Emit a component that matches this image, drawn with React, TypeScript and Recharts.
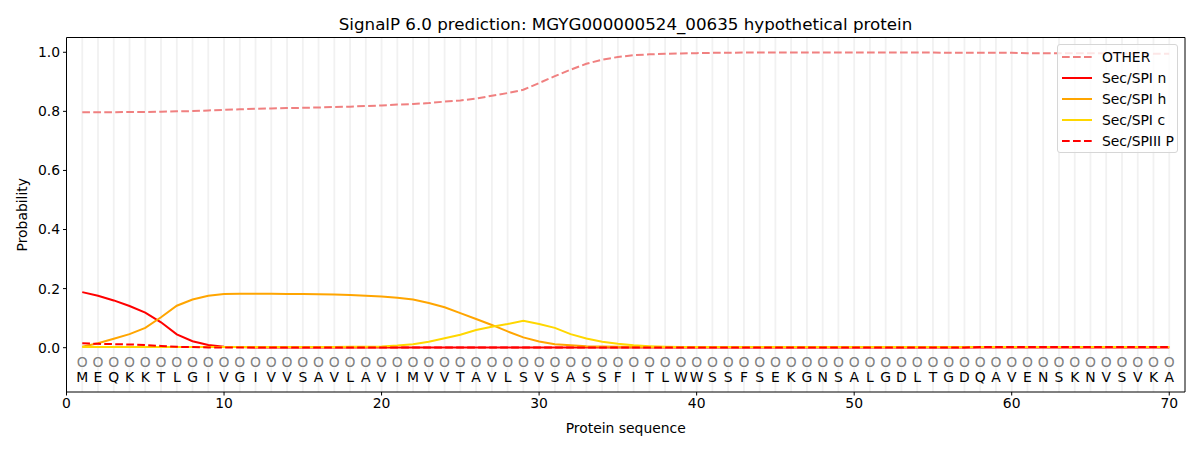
import { ComposedChart, Line, Scatter, XAxis, YAxis, ReferenceLine } from 'recharts';

// sequence and per-residue predicted label
const residues = 'MEQKKTLGIVGIVVSAVLAVIMVVTAVLSVSASSFITLWWSSFSEKGNSALGDLTGDQAVENSKNVSVKA'.split('');
const predicted = 'OOOOOOOOOOOOOOOOOOOOOOOOOOOOOOOOOOOOOOOOOOOOOOOOOOOOOOOOOOOOOOOOOOOOOO'.split('');

const other = [
  0.797, 0.797, 0.797, 0.798, 0.798, 0.799, 0.8, 0.801, 0.803, 0.805,
  0.807, 0.809, 0.81, 0.811, 0.812, 0.813, 0.815, 0.816, 0.818, 0.82,
  0.823, 0.825, 0.828, 0.833, 0.837, 0.843, 0.853, 0.862, 0.873, 0.896,
  0.919, 0.941, 0.961, 0.975, 0.984, 0.99, 0.993, 0.995, 0.996, 0.997,
  0.998, 0.998, 0.999, 0.999, 0.999, 0.999, 0.999, 0.999, 0.999, 0.999,
  0.999, 0.999, 0.999, 0.999, 0.999, 0.998, 0.998, 0.998, 0.998, 0.998,
  0.997, 0.997, 0.997, 0.997, 0.997, 0.996, 0.996, 0.996, 0.995, 0.995,
];
const secN = [
  0.188, 0.176, 0.16, 0.141, 0.119, 0.086, 0.045, 0.022, 0.009, 0.003,
  0.002, 0.001, 0.001, 0.001, 0.001, 0.001, 0.001, 0.001, 0.001, 0.001,
  0.001, 0.001, 0.001, 0.001, 0.001, 0.001, 0.001, 0.001, 0.001, 0.001,
  0.001, 0.001, 0.001, 0.001, 0.001, 0.001, 0.001, 0.001, 0.001, 0.001,
  0.001, 0.001, 0.001, 0.001, 0.001, 0.001, 0.001, 0.001, 0.001, 0.001,
  0.001, 0.001, 0.001, 0.001, 0.001, 0.001, 0.001, 0.001, 0.001, 0.001,
  0.001, 0.001, 0.001, 0.001, 0.001, 0.001, 0.001, 0.001, 0.001, 0.001,
];
const secH = [
  0.003, 0.015, 0.03, 0.046, 0.067, 0.103, 0.142, 0.163, 0.176, 0.182,
  0.183, 0.183, 0.183, 0.182, 0.182, 0.181, 0.18, 0.178, 0.176, 0.173,
  0.169, 0.163, 0.151, 0.137, 0.117, 0.097, 0.077, 0.055, 0.035, 0.021,
  0.012, 0.008, 0.005, 0.004, 0.003, 0.003, 0.002, 0.002, 0.002, 0.002,
  0.002, 0.002, 0.002, 0.002, 0.002, 0.002, 0.002, 0.002, 0.002, 0.002,
  0.002, 0.002, 0.002, 0.002, 0.002, 0.002, 0.002, 0.002, 0.002, 0.002,
  0.002, 0.002, 0.002, 0.002, 0.002, 0.002, 0.002, 0.002, 0.002, 0.002,
];
const secC = [
  0.002, 0.002, 0.002, 0.002, 0.002, 0.002, 0.002, 0.002, 0.002, 0.002,
  0.002, 0.002, 0.002, 0.002, 0.002, 0.002, 0.002, 0.003, 0.003, 0.004,
  0.007, 0.012, 0.02, 0.032, 0.044, 0.06, 0.071, 0.08, 0.091, 0.08,
  0.067, 0.046, 0.031, 0.02, 0.013, 0.008, 0.005, 0.003, 0.002, 0.002,
  0.002, 0.002, 0.002, 0.002, 0.002, 0.002, 0.002, 0.002, 0.002, 0.002,
  0.002, 0.002, 0.002, 0.002, 0.002, 0.002, 0.002, 0.002, 0.002, 0.002,
  0.002, 0.002, 0.002, 0.002, 0.002, 0.002, 0.002, 0.002, 0.002, 0.002,
];
const secP = [
  0.015, 0.013, 0.012, 0.011, 0.009, 0.006, 0.003, 0.002, 0.001, 0.001,
  0.001, 0.001, 0.001, 0.001, 0.001, 0.001, 0.001, 0.001, 0.001, 0.001,
  0.001, 0.001, 0.001, 0.001, 0.001, 0.001, 0.001, 0.001, 0.001, 0.001,
  0.001, 0.001, 0.001, 0.001, 0.001, 0.001, 0.001, 0.001, 0.001, 0.001,
  0.001, 0.001, 0.001, 0.001, 0.001, 0.001, 0.001, 0.001, 0.001, 0.001,
  0.001, 0.001, 0.001, 0.001, 0.001, 0.001, 0.001, 0.002, 0.002, 0.002,
  0.002, 0.002, 0.002, 0.002, 0.002, 0.002, 0.002, 0.002, 0.002, 0.002,
];

const xTicks = [0, 10, 20, 30, 40, 50, 60, 70];
const yTicks = [0, 0.2, 0.4, 0.6, 0.8, 1.0];

const series = [
  { key: 'other', name: 'OTHER', color: '#f08080', dash: '7.7 3.3' },
  { key: 'n', name: 'Sec/SPI n', color: '#ff0000', dash: undefined },
  { key: 'h', name: 'Sec/SPI h', color: '#ffa500', dash: undefined },
  { key: 'c', name: 'Sec/SPI c', color: '#ffd700', dash: undefined },
  { key: 'p', name: 'Sec/SPIII P', color: '#ff0000', dash: '7.7 3.3' },
];

const data = residues.map((aa, i) => ({
  pos: i + 1,
  aa,
  label: predicted[i],
  other: other[i],
  n: secN[i],
  h: secH[i],
  c: secC[i],
  p: secP[i],
  labelY: -0.05,
  aaY: -0.1,
}));

const FONT = '"DejaVu Sans", sans-serif';

const App = () => {
  return (
    <div style={{ position: 'relative', width: 1200, height: 450, fontFamily: FONT, background: '#fff' }}>
      <style>{'body{margin:0}'}</style>
      <div style={{ position: 'absolute', left: 66, width: 1119, top: 14, textAlign: 'center', fontSize: 16.7, color: '#000' }}>
        SignalP 6.0 prediction: MGYG000000524_00635 hypothetical protein
      </div>
      <ComposedChart width={1200} height={450} data={data} margin={{ top: 37.5, right: 15, bottom: 0, left: 0 }}>
        {data.map((d) => (
          <ReferenceLine key={d.pos} x={d.pos} stroke="#f1f1f1" strokeWidth={1.8} zIndex={-50} />
        ))}
        {/* top and right spines */}
        <ReferenceLine y={1.05} stroke="#000" strokeWidth={1} />
        <ReferenceLine x={71} stroke="#000" strokeWidth={1} />
        <XAxis
          dataKey="pos"
          type="number"
          domain={[0, 71]}
          ticks={xTicks}
          interval={0}
          height={58}
          tickSize={3.5}
          tickMargin={3}
          stroke="#000"
          tick={{ fill: '#000', fontSize: 13.9, fontFamily: FONT }}
          label={{ value: 'Protein sequence', position: 'insideBottom', offset: 17, fill: '#000', fontSize: 13.9, fontFamily: FONT }}
        />
        <YAxis
          type="number"
          domain={[-0.15, 1.05]}
          ticks={yTicks}
          interval={0}
          width={66.5}
          tickSize={3.5}
          tickMargin={3}
          stroke="#000"
          tickFormatter={(v: number) => v.toFixed(1)}
          tick={{ fill: '#000', fontSize: 13.9, fontFamily: FONT }}
          label={{
            content: () => (
              <text x={22} y={214.75} transform="rotate(-90 22 214.75)" textAnchor="middle" dominantBaseline="central" fontSize={13.9} fontFamily={FONT} fill="#000">
                Probability
              </text>
            ),
          }}
        />
        {series.map((s) => (
          <Line
            key={s.key}
            dataKey={s.key}
            name={s.name}
            type="linear"
            stroke={s.color}
            strokeWidth={2}
            strokeDasharray={s.dash}
            dot={false}
            activeDot={false}
            isAnimationActive={false}
          />
        ))}
        <Scatter
          data={data}
          dataKey="labelY"
          isAnimationActive={false}
          shape={(props: any) => (
            <text x={props.cx} y={props.cy} textAnchor="middle" dominantBaseline="central" fontSize={13.9} fontFamily={FONT} fill="#808080">
              {props.payload.label}
            </text>
          )}
        />
        <Scatter
          data={data}
          dataKey="aaY"
          isAnimationActive={false}
          shape={(props: any) => (
            <text x={props.cx} y={props.cy} textAnchor="middle" dominantBaseline="central" fontSize={13.9} fontFamily={FONT} fill="#000">
              {props.payload.aa}
            </text>
          )}
        />
      </ComposedChart>
      <div
        style={{
          position: 'absolute',
          left: 1057,
          top: 44,
          width: 121,
          height: 109,
          boxSizing: 'border-box',
          border: '1px solid #d6d6d6',
          borderRadius: 3,
          background: 'rgba(255,255,255,0.8)',
          padding: '1px 0 0 4px',
          fontSize: 13.9,
        }}
      >
        {series.map((s) => (
          <div key={s.key} style={{ display: 'flex', alignItems: 'center', height: 21 }}>
            <svg width={30} height={6} style={{ marginRight: 10 }}>
              <line x1={0} y1={3} x2={30} y2={3} stroke={s.color} strokeWidth={2} strokeDasharray={s.dash} />
            </svg>
            <span>{s.name}</span>
          </div>
        ))}
      </div>
    </div>
  );
};

export default App;
